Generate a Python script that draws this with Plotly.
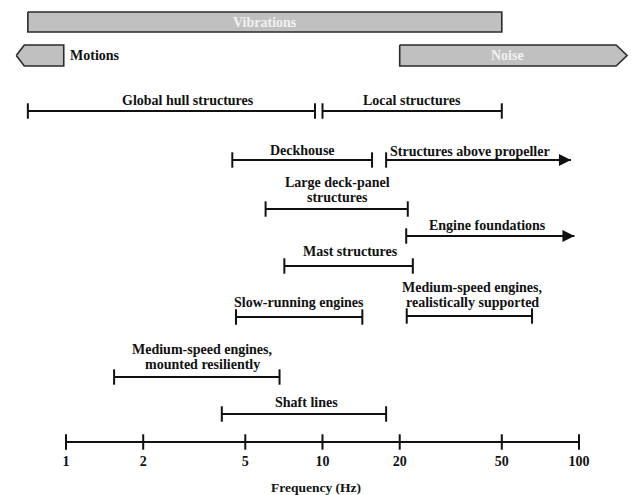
import numpy as np
import plotly.graph_objects as go

# Frequency bands shown as grey boxes across the top (Hz)
band_names = ["Vibrations", "Motions", "Noise"]
band_lo = [0.71, 0.64, 20.0]
band_hi = [50.0, 0.98, 154.0]
band_point = [None, "left", "right"]

# Frequency ranges of ship structures and excitation sources (Hz)
range_labels = [
    "Global hull structures",
    "Local structures",
    "Deckhouse",
    "Structures above propeller",
    "Large deck-panel\nstructures",
    "Engine foundations",
    "Mast structures",
    "Slow-running engines",
    "Medium-speed engines,\nrealistically supported",
    "Medium-speed engines,\nmounted resiliently",
    "Shaft lines",
]
range_lo = [0.71, 10.0, 4.45, 17.7, 6.0, 21.2, 7.1, 4.6, 21.3, 1.54, 4.05]
range_hi = [9.35, 50.0, 15.6, 93.0, 21.5, 96.0, 22.5, 14.3, 65.6, 6.8, 17.7]
range_open = [False, False, False, True, False, True, False, False, False, False, False]

tick_values = [1, 2, 5, 10, 20, 50, 100]
tick_labels = ["1", "2", "5", "10", "20", "50", "100"]
axis_title = "Frequency (Hz)"

# ---- layout (vertical rows in pixels from the top, label anchors) ----
W, H = 632, 495
PX_PER_DEC = 256.5
X_ONE = 66                      # pixel column of 1 Hz
PLOT_H = 451
band_rows = [(12, 32), (45, 66), (45, 66)]
band_tip_px = [0, 8, 11]
row_y = [111, 111, 160, 160, 209, 236, 266, 317, 316, 377, 414]
label_y = [100, 100, 150, 151, 190, 225, 251, 302, 295, 357, 402]
label_x = [2.99, 22.3, 8.39, 18.0, 11.4, 43.8, 12.9, 8.1, 38.3, 3.39, 8.7]
label_anchor = ["center"] * 11
label_anchor[3] = "left"
axis_y = 442
LINE_SPACING = 15.5

FONT = "Liberation Serif"
INK = "#111111"
BOX_FILL = "#c0c0c0"
BOX_EDGE = "#2a2a2a"

fig = go.Figure()

# grey band boxes
for name, lo, hi, pt, (y0, y1), tip_px in zip(band_names, band_lo, band_hi,
                                              band_point, band_rows, band_tip_px):
    a, b = np.log10(lo), np.log10(hi)
    d = tip_px / PX_PER_DEC
    ym = (y0 + y1) / 2
    if pt == "left":
        xs = [a, a + d, b, b, a + d, a]
        ys = [ym, y0, y0, y1, y1, ym]
    elif pt == "right":
        xs = [a, b - d, b, b - d, a, a]
        ys = [y0, y0, ym, y1, y1, y0]
    else:
        xs = [a, b, b, a, a]
        ys = [y0, y0, y1, y1, y0]
    fig.add_trace(go.Scatter(
        x=[10 ** v for v in xs], y=ys, mode="lines", fill="toself",
        fillcolor=BOX_FILL, line=dict(color=BOX_EDGE, width=1.6),
        hoverinfo="skip", showlegend=False))
    if pt == "left":
        fig.add_annotation(x=np.log10(hi) + 4 / PX_PER_DEC, y=ym, text=name,
                           xanchor="left", showarrow=False,
                           font=dict(family=FONT, size=14, color=INK, weight="bold"))
    else:
        body_hi = b - d
        fig.add_annotation(x=(a + body_hi) / 2, y=ym, text=name,
                           showarrow=False,
                           font=dict(family=FONT, size=14, color="#f2f2f2", weight="bold"))

# range lines
cap_x, cap_y, arr_x, arr_y = [], [], [], []
for lo, hi, op, y in zip(range_lo, range_hi, range_open, row_y):
    fig.add_trace(go.Scatter(x=[lo, hi], y=[y, y], mode="lines",
                             line=dict(color=INK, width=2),
                             hoverinfo="skip", showlegend=False))
    cap_x.append(lo); cap_y.append(y)
    if op:
        arr_x.append(hi); arr_y.append(y)
    else:
        cap_x.append(hi); cap_y.append(y)

fig.add_trace(go.Scatter(x=cap_x, y=cap_y, mode="markers",
                         marker=dict(symbol="line-ns", size=11,
                                     line=dict(color=INK, width=2)),
                         cliponaxis=False, hoverinfo="skip", showlegend=False))
fig.add_trace(go.Scatter(x=arr_x, y=arr_y, mode="markers",
                         marker=dict(symbol="arrow-right", size=12, color=INK,
                                     line=dict(width=0)),
                         cliponaxis=False, hoverinfo="skip", showlegend=False))

# range labels
for text, lx, ly, anc in zip(range_labels, label_x, label_y, label_anchor):
    lines = text.split("\n")
    n = len(lines)
    for i, ln in enumerate(lines):
        yy = ly + (i - (n - 1) / 2) * LINE_SPACING
        fig.add_annotation(x=np.log10(lx), y=yy, text=ln, xanchor=anc,
                           showarrow=False,
                           font=dict(family=FONT, size=14, color=INK, weight="bold"))

# frequency axis line with ticks
fig.add_trace(go.Scatter(x=[tick_values[0], tick_values[-1]], y=[axis_y, axis_y],
                         mode="lines", line=dict(color=INK, width=2),
                         hoverinfo="skip", showlegend=False))
fig.add_trace(go.Scatter(x=tick_values, y=[axis_y] * len(tick_values), mode="markers",
                         marker=dict(symbol="line-ns", size=11,
                                     line=dict(color=INK, width=2)),
                         cliponaxis=False, hoverinfo="skip", showlegend=False))

x_range = [-X_ONE / PX_PER_DEC, (W - X_ONE) / PX_PER_DEC]
fig.update_layout(
    width=W, height=H,
    margin=dict(l=0, r=0, t=0, b=H - PLOT_H, pad=0),
    paper_bgcolor="white", plot_bgcolor="white",
    xaxis=dict(type="log", range=x_range, tickvals=tick_values, ticktext=tick_labels,
               ticks="", showgrid=False, zeroline=False, showline=False,
               tickfont=dict(family=FONT, size=14, color=INK, weight="bold"),
               title=dict(text=axis_title, standoff=14,
                          font=dict(family=FONT, size=13.5, color=INK, weight="bold"))),
    yaxis=dict(range=[PLOT_H, 0], visible=False, showgrid=False, zeroline=False),
)

fig.write_html("out.html")
